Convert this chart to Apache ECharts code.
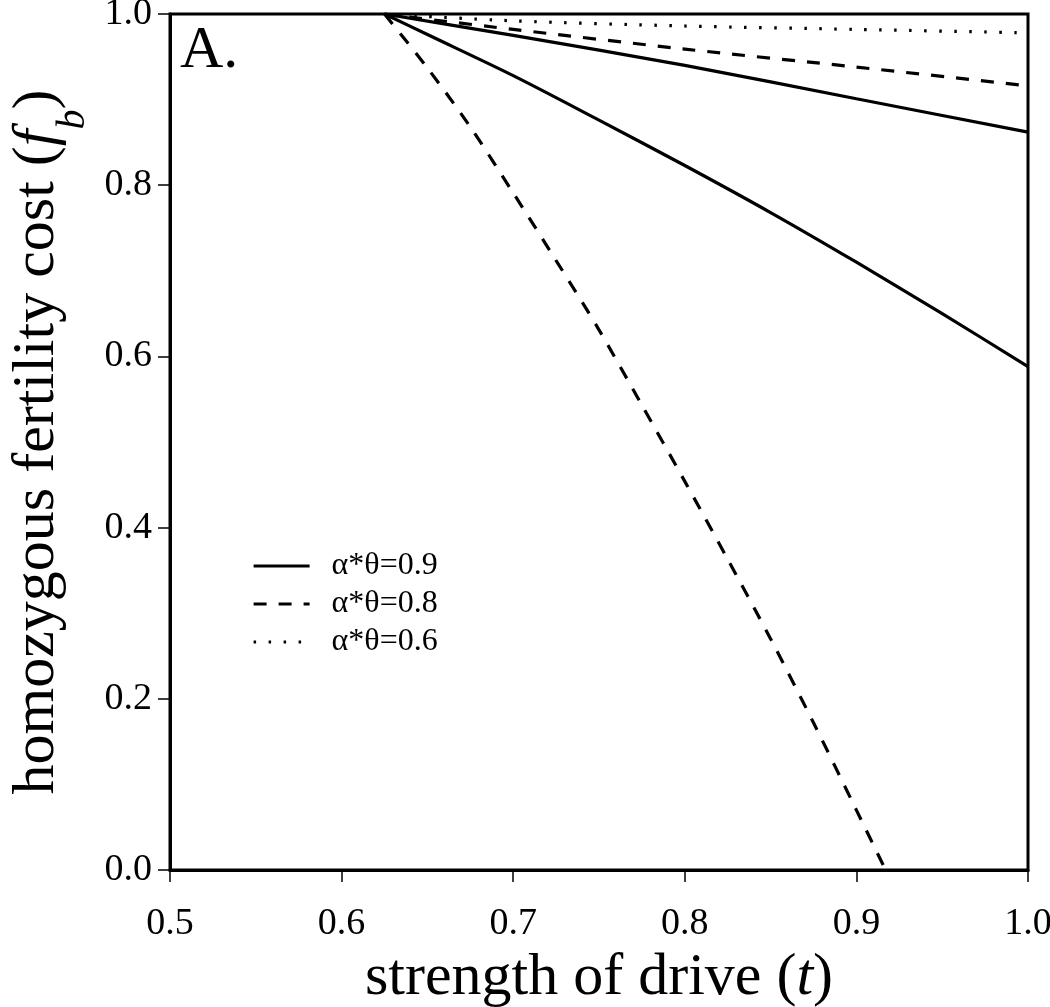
<!DOCTYPE html>
<html>
<head>
<meta charset="utf-8">
<script src="https://cdn.jsdelivr.net/npm/echarts@6/dist/echarts.min.js"></script>
<style>html,body{margin:0;padding:0;background:#fff;}#chart{width:1050px;height:1007px;}</style>
</head>
<body>
<div id="chart"></div>
<script>
// Data
var xTicks = [0.5, 0.6, 0.7, 0.8, 0.9, 1.0];
var yTicks = [0.0, 0.2, 0.4, 0.6, 0.8, 1.0];
var legendNames = ['α*θ=0.9', 'α*θ=0.8', 'α*θ=0.6'];

var solidLowT = [0.625, 0.65, 0.7, 0.75, 0.8, 0.85, 0.9, 0.95, 1.0];
var solidLowY = [1.0, 0.976, 0.928, 0.876, 0.823, 0.768, 0.710, 0.650, 0.588];

var solidHighT = [0.625, 0.7, 0.8, 0.9, 1.0];
var solidHighY = [1.0, 0.975, 0.940, 0.901, 0.862];

var dashLowT = [0.625, 0.65, 0.675, 0.7, 0.725, 0.75, 0.775, 0.8, 0.825, 0.85, 0.875, 0.9, 0.917];
var dashLowY = [1.0, 0.937, 0.868, 0.791, 0.712, 0.631, 0.543, 0.454, 0.363, 0.270, 0.172, 0.070, 0.0];

var dashHighT = [0.625, 0.7, 0.8, 0.9, 1.0];
var dashHighY = [1.0, 0.982, 0.959, 0.938, 0.916];

var dotT = [0.625, 0.7, 0.8, 0.9, 1.0];
var dotY = [1.0, 0.992, 0.986, 0.982, 0.978];

function pairs(t, y) { return t.map(function (v, i) { return [v, y[i]]; }); }

var FONT = '"Liberation Serif", "DejaVu Serif", serif';
var dashPat = [13, 12];
var dotPat = [2.5, 12.5];

function mk(name, t, y, type) {
  return {
    name: name, type: 'line', data: pairs(t, y), showSymbol: false, symbol: 'none',
    smooth: 0.3, clip: true,
    lineStyle: { color: '#000', width: 3.2, type: type, cap: 'butt' },
    itemStyle: { color: '#000' }
  };
}

var chart = echarts.init(document.getElementById('chart'), null, { renderer: 'canvas' });
chart.setOption({
  backgroundColor: '#fff',
  animation: false,
  textStyle: { fontFamily: FONT },
  grid: {
    left: 170, right: 22, top: 14, bottom: 137, show: true,
    borderColor: '#000', borderWidth: 3, backgroundColor: 'transparent',
    containLabel: false, outerBoundsMode: 'none'
  },
  title: {
    text: 'A.', left: 175, top: 16,
    textStyle: { fontFamily: FONT, fontSize: 60, fontWeight: 'normal', color: '#000' }
  },
  legend: {
    orient: 'vertical', left: 247, top: 545,
    data: legendNames,
    itemWidth: 56, itemHeight: 14, itemGap: 6,
    itemStyle: { opacity: 0 },
    lineStyle: { width: 3.2 },
    textStyle: { fontFamily: FONT, fontSize: 32, color: '#000', lineHeight: 32, padding: [0, 0, 0, 17] },
    selectedMode: false
  },
  xAxis: {
    type: 'value', min: 0.5, max: 1.0, interval: 0.1,
    name: 'strength of drive ({i|t})',
    nameLocation: 'middle', nameGap: 70,
    nameTextStyle: {
      fontFamily: FONT, fontSize: 60, color: '#000',
      rich: { i: { fontFamily: FONT, fontSize: 60, fontStyle: 'italic', color: '#000' } }
    },
    axisLine: { show: true, lineStyle: { color: '#000', width: 3 } },
    axisTick: { show: true, length: 12, lineStyle: { color: '#000', width: 1.5 } },
    axisLabel: {
      margin: 35, fontFamily: FONT, fontSize: 38, color: '#000',
      formatter: function (v) { return v.toFixed(1); }
    },
    splitLine: { show: false }
  },
  yAxis: {
    type: 'value', min: 0, max: 1.0, interval: 0.2,
    name: 'homozygous fertility cost ({i|f}{s|b})',
    nameLocation: 'middle', nameGap: 100, nameRotate: 90,
    nameTextStyle: {
      fontFamily: FONT, fontSize: 60, color: '#000',
      rich: {
        i: { fontFamily: FONT, fontSize: 60, fontStyle: 'italic', color: '#000' },
        s: { fontFamily: FONT, fontSize: 40, fontStyle: 'italic', color: '#000', verticalAlign: 'bottom', padding: [0, 0, -26, 0] }
      }
    },
    axisLine: { show: true, lineStyle: { color: '#000', width: 3 } },
    axisTick: { show: true, length: 12, lineStyle: { color: '#000', width: 1.5 } },
    axisLabel: {
      margin: 18, fontFamily: FONT, fontSize: 38, color: '#000',
      formatter: function (v) { return v.toFixed(1); }
    },
    splitLine: { show: false }
  },
  series: [
    mk(legendNames[0], solidHighT, solidHighY, 'solid'),
    mk(legendNames[0], solidLowT, solidLowY, 'solid'),
    mk(legendNames[1], dashHighT, dashHighY, dashPat),
    mk(legendNames[1], dashLowT, dashLowY, dashPat),
    mk(legendNames[2], dotT, dotY, dotPat)
  ]
});
</script>
</body>
</html>
